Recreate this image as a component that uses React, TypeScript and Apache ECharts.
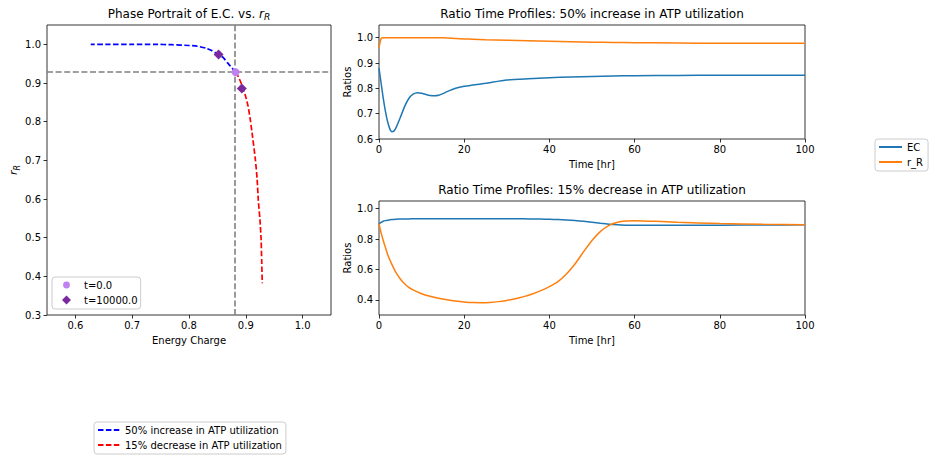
import React, { useEffect, useRef } from "react";
import * as echarts from "echarts";

const FONT = "DejaVu Sans";

// ---- Phase portrait (E.C. vs r_R) ----
const incEC = [0.882, 0.876, 0.868, 0.86, 0.85, 0.84, 0.83, 0.815, 0.8, 0.77, 0.74, 0.7, 0.66, 0.627];
const incRR = [0.928, 0.938, 0.952, 0.966, 0.975, 0.984, 0.99, 0.995, 0.997, 0.999, 1.0, 1.0, 1.0, 1.0];
const decEC = [0.882, 0.887, 0.893, 0.899, 0.904, 0.908, 0.912, 0.917, 0.92, 0.922, 0.925, 0.927, 0.928, 0.929];
const decRR = [0.928, 0.916, 0.895, 0.869, 0.84, 0.804, 0.76, 0.7, 0.65, 0.597, 0.545, 0.494, 0.44, 0.382];
const startPoint = [0.882, 0.928];
const endPoints = [[0.852, 0.974], [0.893, 0.886]];
const refEC = 0.882;
const refRR = 0.928;

// ---- Time profiles: 50% increase ----
const t50 = [0, 0.5, 1, 1.5, 2, 2.5, 3, 3.5, 4, 5, 6, 7, 8, 9, 10, 11, 12, 13, 14, 15, 16, 18, 20, 22, 25, 30, 35, 40, 45, 50, 55, 60, 70, 80, 90, 100];
const ec50 = [0.88, 0.82, 0.76, 0.71, 0.67, 0.642, 0.629, 0.631, 0.645, 0.685, 0.728, 0.76, 0.777, 0.783, 0.781, 0.776, 0.772, 0.771, 0.773, 0.779, 0.787, 0.8, 0.808, 0.813, 0.82, 0.833, 0.838, 0.842, 0.845, 0.847, 0.849, 0.85, 0.851, 0.852, 0.852, 0.852];
const rr50 = [0.96, 0.997, 1.0, 1.0, 1.0, 1.0, 1.0, 1.0, 1.0, 1.0, 1.0, 1.0, 1.0, 0.9995, 0.9995, 0.9995, 0.9995, 0.9995, 0.9995, 0.9993, 0.999, 0.997, 0.995, 0.994, 0.992, 0.99, 0.988, 0.986, 0.984, 0.982, 0.981, 0.98, 0.979, 0.978, 0.978, 0.978];

// ---- Time profiles: 15% decrease ----
const t15 = [0, 0.5, 1, 1.5, 2, 2.5, 3, 4, 5, 6, 7, 8, 10, 12, 14, 16, 18, 20, 22, 24, 26, 28, 30, 32, 34, 36, 38, 40, 42, 44, 46, 48, 50, 52, 54, 56, 58, 60, 62, 65, 70, 80, 90, 100];
const ec15 = [0.9, 0.91, 0.917, 0.921, 0.924, 0.926, 0.928, 0.93, 0.931, 0.932, 0.932, 0.933, 0.933, 0.933, 0.933, 0.933, 0.933, 0.933, 0.933, 0.933, 0.933, 0.933, 0.933, 0.933, 0.933, 0.932, 0.931, 0.93, 0.928, 0.925, 0.921, 0.916, 0.91, 0.903, 0.897, 0.893, 0.891, 0.89, 0.89, 0.89, 0.89, 0.891, 0.892, 0.893];
const rr15 = [0.9, 0.84, 0.79, 0.745, 0.7, 0.665, 0.635, 0.578, 0.537, 0.506, 0.482, 0.465, 0.44, 0.423, 0.41, 0.4, 0.392, 0.386, 0.382, 0.381, 0.383, 0.388, 0.396, 0.407, 0.421, 0.438, 0.46, 0.487, 0.52, 0.57, 0.635, 0.715, 0.79, 0.85, 0.89, 0.91, 0.918, 0.92, 0.919, 0.916, 0.91, 0.902, 0.897, 0.894];

// ---- Tick labels ----
const phaseXTicks = [0.6, 0.7, 0.8, 0.9, 1.0];
const phaseYTicks = [0.3, 0.4, 0.5, 0.6, 0.7, 0.8, 0.9, 1.0];
const timeTicks = [0, 20, 40, 60, 80, 100];
const topYTicks = [0.6, 0.7, 0.8, 0.9, 1.0];
const botYTicks = [0.4, 0.6, 0.8, 1.0];

const INC_NAME = "50% increase in ATP utilization";
const DEC_NAME = "15% decrease in ATP utilization";

const pairs = (xs: number[], ys: number[]) => xs.map((x, i) => [x, ys[i]]);

// legend icons: invisible move-to points fix the bounding box so the marker keeps its aspect
const LEG_CIRCLE = "path://M-12.5,-4.5M12.5,4.5M3.4,0A3.4,3.4,0,1,1,-3.4,0A3.4,3.4,0,1,1,3.4,0Z";
const LEG_DIAMOND = "path://M-12.5,-4.5M12.5,4.5M0,-4.5L4.5,0L0,4.5L-4.5,0Z";

export default function App() {
  const ref = useRef<HTMLDivElement>(null);
  useEffect(() => {
    const chart = echarts.init(ref.current!, null, { renderer: "svg" });
    const labelStyle = { color: "#000", fontSize: 10, fontFamily: FONT };
    const axis = (gridIndex: number, min: number, max: number, ticks: number[], dec: number, margin: number, extra: any = {}) => ({
      type: "value",
      gridIndex,
      min,
      max,
      axisLine: { show: false },
      axisTick: { show: true, inside: false, length: 3.5, lineStyle: { color: "#000", width: 0.8 }, customValues: ticks },
      axisLabel: { ...labelStyle, margin, customValues: ticks, formatter: (v: number) => v.toFixed(dec) },
      splitLine: { show: false },
      nameTextStyle: { ...labelStyle },
      ...extra,
    });
    const gridBase = { show: true, borderColor: "#000", borderWidth: 0.8, containLabel: false };
    const legendBase = {
      orient: "vertical",
      selectedMode: false,
      backgroundColor: "rgba(255,255,255,0.8)",
      borderColor: "#cccccc",
      borderWidth: 1,
      borderRadius: 3,
      itemGap: 5,
      textStyle: { color: "#000", fontSize: 10, fontFamily: FONT },
    };
    const dash = [5.5, 2.4];
    const rich = {
      i: { fontStyle: "italic", fontFamily: FONT, lineHeight: 15 },
      s: { fontStyle: "italic", fontFamily: FONT, verticalAlign: "bottom" },
    };

    chart.setOption({
      animation: false,
      backgroundColor: "#fff",
      textStyle: { fontFamily: FONT },
      grid: [
        { ...gridBase, left: 47, top: 25, width: 284, height: 290 },
        { ...gridBase, left: 379, top: 25, width: 426, height: 114 },
        { ...gridBase, left: 379, top: 201, width: 426, height: 114 },
      ],
      xAxis: [
        axis(0, 0.55, 1.05, phaseXTicks, 1, 5, { name: "Energy Charge", nameLocation: "middle", nameGap: 20 }),
        axis(1, 0, 100, timeTicks, 0, 5, { name: "Time [hr]", nameLocation: "middle", nameGap: 20 }),
        axis(2, 0, 100, timeTicks, 0, 5, { name: "Time [hr]", nameLocation: "middle", nameGap: 20 }),
      ],
      yAxis: [
        axis(0, 0.3, 1.05, phaseYTicks, 1, 6, {
          name: "{i|r}{s|R}",
          nameLocation: "middle",
          nameGap: 26,
          nameTextStyle: {
            color: "#000",
            rich: { i: { ...rich.i, fontSize: 11, color: "#000" }, s: { ...rich.s, fontSize: 8, color: "#000" } },
          },
        }),
        axis(1, 0.6, 1.05, topYTicks, 1, 6, { name: "Ratios", nameLocation: "middle", nameGap: 27 }),
        axis(2, 0.3, 1.05, botYTicks, 1, 6, { name: "Ratios", nameLocation: "middle", nameGap: 27 }),
      ],
      legend: [
        {
          ...legendBase,
          left: 52,
          top: 277,
          padding: [3, 3, 4, 2],
          itemWidth: 25,
          itemHeight: 9,
          data: [
            { name: "t=0.0", icon: LEG_CIRCLE },
            { name: "t=10000.0", icon: LEG_DIAMOND },
          ],
        },
        {
          ...legendBase,
          left: 875,
          top: 139,
          padding: [3, 5, 4, 3],
          itemWidth: 23,
          itemHeight: 10,
          itemStyle: { opacity: 0 },
          lineStyle: { width: 2 },
          data: ["EC", "r_R"],
        },
        {
          ...legendBase,
          left: 94,
          top: 422,
          padding: [3, 4, 4, 3],
          itemWidth: 22,
          itemHeight: 10,
          itemStyle: { opacity: 0 },
          lineStyle: { width: 2 },
          data: [INC_NAME, DEC_NAME],
        },
      ],
      graphic: [
        {
          type: "text",
          x: 189,
          y: 14,
          style: {
            text: "Phase Portrait of E.C. vs. {i|r}{s|R}",
            align: "center",
            verticalAlign: "middle",
            fontSize: 12,
            fontFamily: FONT,
            fill: "#000",
            lineHeight: 15,
            rich: { i: { ...rich.i, fontSize: 12, fill: "#000" }, s: { ...rich.s, fontSize: 9, fill: "#000" } },
          },
        },
        {
          type: "text",
          x: 592,
          y: 14,
          style: { text: "Ratio Time Profiles: 50% increase in ATP utilization", align: "center", verticalAlign: "middle", fontSize: 12, fontFamily: FONT, fill: "#000" },
        },
        {
          type: "text",
          x: 592,
          y: 190,
          style: { text: "Ratio Time Profiles: 15% decrease in ATP utilization", align: "center", verticalAlign: "middle", fontSize: 12, fontFamily: FONT, fill: "#000" },
        },
      ],
      series: [
        {
          type: "line",
          name: INC_NAME,
          xAxisIndex: 0,
          yAxisIndex: 0,
          data: pairs(incEC, incRR),
          symbol: "none",
          smooth: 0.2,
          lineStyle: { color: "#0000ff", width: 1.7, type: dash },
          itemStyle: { color: "#0000ff" },
          z: 2,
        },
        {
          type: "line",
          name: DEC_NAME,
          xAxisIndex: 0,
          yAxisIndex: 0,
          data: pairs(decEC, decRR),
          symbol: "none",
          smooth: 0.2,
          lineStyle: { color: "#ff0000", width: 1.7, type: dash },
          itemStyle: { color: "#ff0000" },
          z: 2,
        },
        {
          type: "line",
          name: "refs",
          xAxisIndex: 0,
          yAxisIndex: 0,
          data: [startPoint],
          symbol: "none",
          lineStyle: { width: 0 },
          z: 3,
          markLine: {
            silent: true,
            symbol: ["none", "none"],
            label: { show: false },
            lineStyle: { color: "#808080", width: 1.6, type: [6, 2.6] },
            data: [{ xAxis: refEC }, { yAxis: refRR }],
          },
        },
        {
          type: "scatter",
          name: "t=0.0",
          xAxisIndex: 0,
          yAxisIndex: 0,
          data: [startPoint],
          symbol: "circle",
          symbolSize: 8,
          itemStyle: { color: "#bf80f0", opacity: 1 },
          z: 5,
        },
        {
          type: "scatter",
          name: "t=10000.0",
          xAxisIndex: 0,
          yAxisIndex: 0,
          data: endPoints,
          symbol: "diamond",
          symbolSize: 10,
          itemStyle: { color: "#7b2a9e", opacity: 1 },
          z: 5,
        },
        {
          type: "line",
          name: "EC",
          xAxisIndex: 1,
          yAxisIndex: 1,
          data: pairs(t50, ec50),
          symbol: "none",
          smooth: 0.2,
          lineStyle: { color: "#1f77b4", width: 1.5 },
          itemStyle: { color: "#1f77b4" },
        },
        {
          type: "line",
          name: "r_R",
          xAxisIndex: 1,
          yAxisIndex: 1,
          data: pairs(t50, rr50),
          symbol: "none",
          smooth: 0.2,
          lineStyle: { color: "#ff7f0e", width: 1.5 },
          itemStyle: { color: "#ff7f0e" },
        },
        {
          type: "line",
          name: "EC",
          xAxisIndex: 2,
          yAxisIndex: 2,
          data: pairs(t15, ec15),
          symbol: "none",
          smooth: 0.2,
          lineStyle: { color: "#1f77b4", width: 1.5 },
          itemStyle: { color: "#1f77b4" },
        },
        {
          type: "line",
          name: "r_R",
          xAxisIndex: 2,
          yAxisIndex: 2,
          data: pairs(t15, rr15),
          symbol: "none",
          smooth: 0.2,
          lineStyle: { color: "#ff7f0e", width: 1.5 },
          itemStyle: { color: "#ff7f0e" },
        },
      ],
    });
    return () => chart.dispose();
  }, []);
  return <div ref={ref} style={{ position: "absolute", left: 0, top: 0, width: 933, height: 461 }} />;
}
